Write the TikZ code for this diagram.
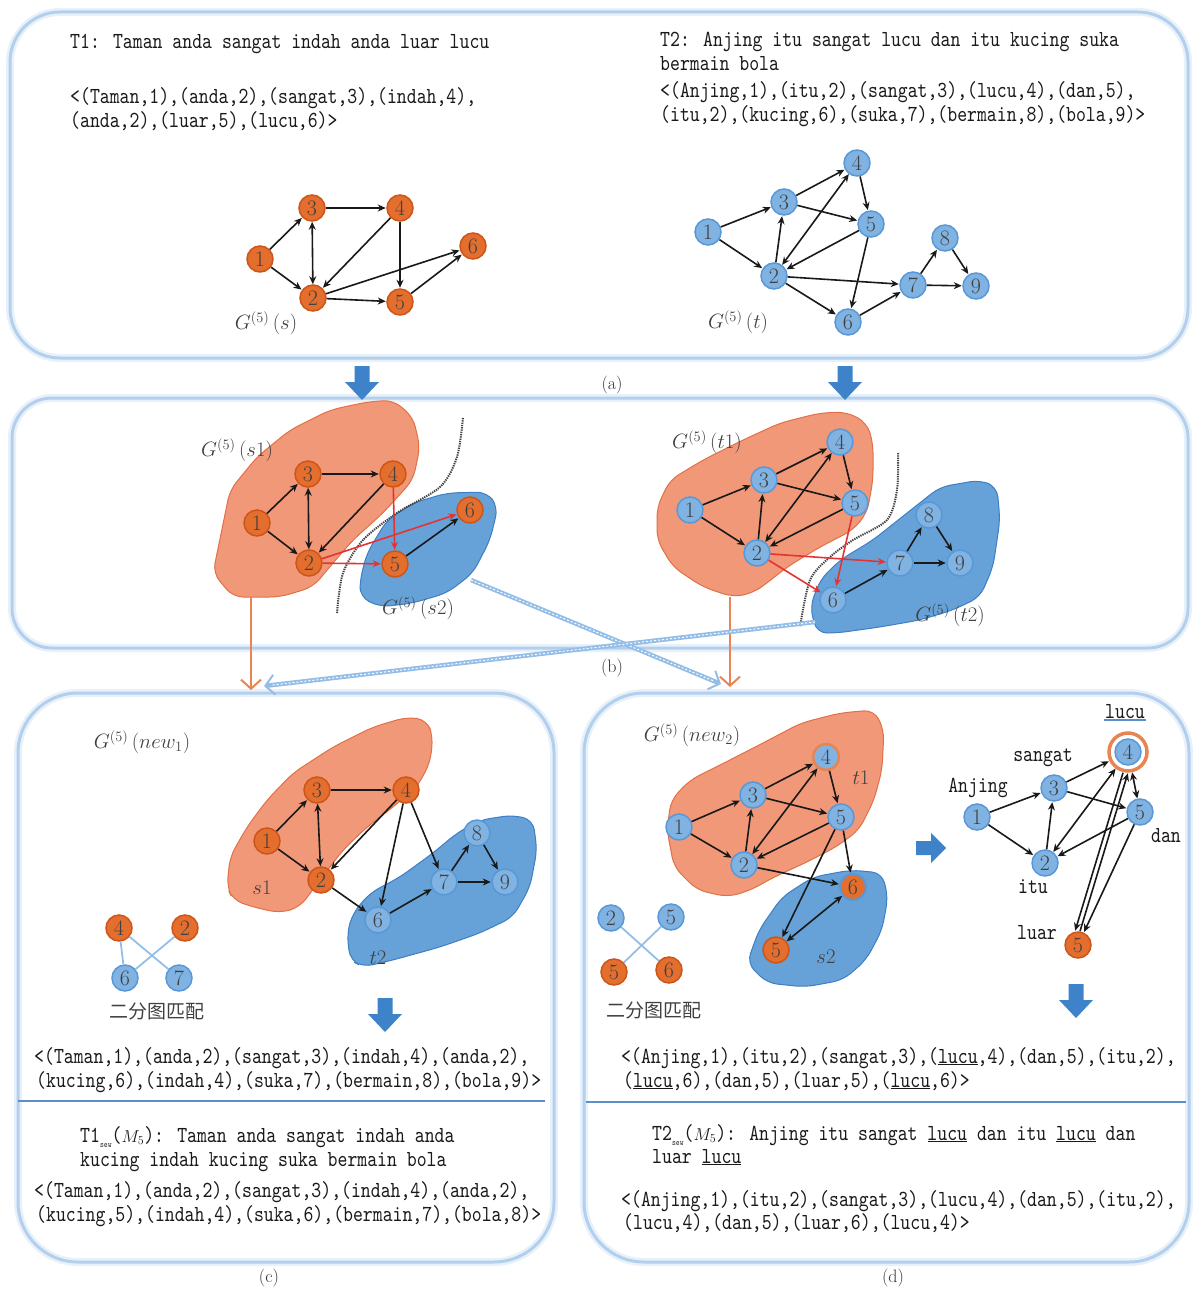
\documentclass[tikz,border=0pt]{standalone}
\usepackage{fontspec}
\usetikzlibrary{arrows.meta}
\newfontfamily\mono[FakeStretch=0.82]{lmmono10-regular.otf}
\newfontfamily\cjk{Noto Sans CJK SC}
\definecolor{onfill}{RGB}{228,110,45}
\definecolor{onborder}{RGB}{205,85,25}
\definecolor{bnfill}{RGB}{128,178,226}
\definecolor{bnborder}{RGB}{88,152,215}
\definecolor{blobofill}{RGB}{241,152,120}
\definecolor{bloboborder}{RGB}{226,112,70}
\definecolor{blobbfill}{RGB}{102,162,216}
\definecolor{blobbborder}{RGB}{62,126,196}
\definecolor{panelblue}{RGB}{178,208,238}
\definecolor{arrowblue}{RGB}{62,130,202}
\definecolor{redge}{RGB}{226,52,52}
\definecolor{stripeblue}{RGB}{148,190,232}
\definecolor{orangecon}{RGB}{234,132,82}
\definecolor{ringorange}{RGB}{232,132,80}
\definecolor{sepblue}{RGB}{92,142,202}
\begin{document}
\begin{tikzpicture}[x=1pt,y=-1pt,
  nd/.style={circle,minimum size=26pt,inner sep=0pt,line width=1.5pt,font=\fontsize{22}{22}\selectfont,text=black!75},
  on/.style={nd,fill=onfill,draw=onborder},
  bn/.style={nd,fill=bnfill,draw=bnborder},
  ed/.style={draw=black!90,line width=1.6pt,-{Stealth[length=8pt,width=7pt]},shorten >=0.5pt},
  ded/.style={draw=black!90,line width=1.6pt,{Stealth[length=8pt,width=7pt]}-{Stealth[length=8pt,width=7pt]}},
  rded/.style={ed,draw=redge,-{Stealth[length=8pt,width=7pt]}},
  txt/.style={font=\mono\fontsize{23}{28}\selectfont,anchor=base west,inner sep=0pt,text=black!90},
  lbl/.style={font=\mono\fontsize{23}{28}\selectfont,inner sep=1pt,text=black!90},
  glab/.style={font=\fontsize{20}{20}\selectfont,inner sep=0pt,text=black!75},
  panellab/.style={font=\fontsize{18}{18}\selectfont,inner sep=0pt,text=black!80},
  panel/.style={draw=panelblue,line width=3pt,rounded corners=50pt},
  panelshadow/.style={draw=panelblue,line width=8pt,rounded corners=50pt,opacity=0.3},
  blobo/.style={fill=blobofill,draw=bloboborder,line width=1pt,rounded corners=10pt},
  blobb/.style={fill=blobbfill,draw=blobbborder,line width=1pt,rounded corners=10pt},
  dotcurve/.style={draw=black!75,line width=2pt,dash pattern=on 1.3pt off 1pt},
  ocon/.style={draw=orangecon,line width=2pt,-{Straight Barb[length=9pt,width=20pt,line width=2pt]}},
  bcon/.style={draw=stripeblue,line width=4.5pt,-{Straight Barb[length=9pt,width=20pt,line width=2pt]}},
  bstripe/.style={draw=white,line width=1pt,dash pattern=on 2pt off 2pt,shorten >=8pt},
  bip/.style={draw=stripeblue,line width=1.8pt},
  sepl/.style={draw=sepblue,line width=2pt},
  darrow/.pic={\fill[arrowblue] (-7.5,-16) -- (7.5,-16) -- (7.5,0) -- (17,0) -- (0,18) -- (-17,0) -- (-7.5,0) -- cycle;},
  rarrow/.pic={\fill[arrowblue] (-15,-7) -- (0,-7) -- (0,-15) -- (15,0) -- (0,15) -- (0,7) -- (-15,7) -- cycle;}
]
\useasboundingbox (0,0) rectangle (1192,1292);

% ---------- panels ----------
\draw[panelshadow] (10,12) rectangle (1188,358);
\draw[panel] (10,12) rectangle (1188,358);
\draw[panelshadow,rounded corners=40pt] (12,398) rectangle (1188,648);
\draw[panel,rounded corners=40pt] (12,398) rectangle (1188,648);
\draw[panelshadow,rounded corners=60pt] (18,693) rectangle (554,1262);
\draw[panel,rounded corners=60pt] (18,693) rectangle (554,1262);
\draw[panelshadow,rounded corners=60pt] (584,693) rectangle (1189,1262);
\draw[panel,rounded corners=60pt] (584,693) rectangle (1189,1262);

\node[panellab] (la) at (612,385) {(a)};
\node[panellab] (lb) at (612,668) {(b)};
\node[panellab] (lc) at (269,1278) {(c)};
\node[panellab] (ld) at (893,1278) {(d)};

% ---------- panel (a) texts ----------
\node[txt] (t1text) at (70,49) {T1: Taman anda sangat indah anda luar lucu};
\node[txt] (t1tupA) at (70,104) {<(Taman,1),(anda,2),(sangat,3),(indah,4),};
\node[txt] (t1tupB) at (70,128) {(anda,2),(luar,5),(lucu,6)>};
\node[txt] (t2text) at (660,47) {T2: Anjing itu sangat lucu dan itu kucing suka};
\node[txt] (t2textB) at (660,71) {bermain bola};
\node[txt] (t2tupA) at (660,98) {<(Anjing,1),(itu,2),(sangat,3),(lucu,4),(dan,5),};
\node[txt] (t2tupB) at (660,122) {(itu,2),(kucing,6),(suka,7),(bermain,8),(bola,9)>};

% ---------- G(s) ----------
\node[on] (s1) at (260,259) {1};
\node[on] (s3) at (312,208) {3};
\node[on] (s4) at (400,208) {4};
\node[on] (s6) at (473,246) {6};
\node[on] (s2) at (313,298) {2};
\node[on] (s5) at (400,302) {5};
\node[glab] (gs) at (266,323) {$G^{(5)}\,(s)$};
\draw[ed] (s1) -- (s3);
\draw[ed] (s1) -- (s2);
\draw[ed] (s3) -- (s4);
\draw[ded] (s3) -- (s2);
\draw[ed] (s4) -- (s2);
\draw[ed] (s4) -- (s5);
\draw[ed] (s2) -- (s5);
\draw[ed] (s2) -- (s6);
\draw[ed] (s5) -- (s6);

% ---------- G(t) ----------
\node[bn] (t4) at (857,163) {4};
\node[bn] (t3) at (784,202) {3};
\node[bn] (t1) at (708,232) {1};
\node[bn] (t5) at (871,224) {5};
\node[bn] (t8) at (945,238) {8};
\node[bn] (t2) at (774,276) {2};
\node[bn] (t7) at (913,285) {7};
\node[bn] (t9) at (976,286) {9};
\node[bn] (t6) at (848,322) {6};
\node[glab] (gt) at (738,322) {$G^{(5)}\,(t)$};
\draw[ed] (t1) -- (t3);
\draw[ed] (t1) -- (t2);
\draw[ed] (t3) -- (t4);
\draw[ed] (t3) -- (t5);
\draw[ed] (t2) -- (t3);
\draw[ded] (t2) -- (t4);
\draw[ed] (t4) -- (t5);
\draw[ed] (t5) -- (t2);
\draw[ed] (t2) -- (t7);
\draw[ed] (t2) -- (t6);
\draw[ed] (t5) -- (t6);
\draw[ed] (t6) -- (t7);
\draw[ed] (t7) -- (t8);
\draw[ed] (t8) -- (t9);
\draw[ed] (t7) -- (t9);

% ---------- arrows a -> b ----------
\pic at (362,382) {darrow};
\pic at (845,382) {darrow};

% ---------- panel (b) left ----------
\draw[blobo] (213,573) -- (230,490) -- (257,457) -- (290,430) -- (330,410) -- (367,402) -- (393,400) -- (413,417) -- (420,447) -- (413,480) -- (383,513) -- (353,540) -- (333,563) -- (313,587) -- (280,597) -- (233,597) -- cycle;
\draw[blobb] (360,580) -- (367,553) -- (387,520) -- (413,503) -- (447,493) -- (487,492) -- (498,507) -- (490,540) -- (473,573) -- (447,593) -- (413,603) -- (380,607) -- (360,597) -- cycle;
\draw[dotcurve] plot[smooth] coordinates {(463,418) (457,457) (440,487) (397,513) (363,540) (343,573) (337,613)};
\node[on] (u3) at (308,474) {3};
\node[on] (u4) at (393,474) {4};
\node[on] (u1) at (257,523) {1};
\node[on] (u2) at (309,563) {2};
\node[on] (u5) at (395,564) {5};
\node[on] (u6) at (470,510) {6};
\node[glab] (gs1) at (237,450) {$G^{(5)}\,(s1)$};
\node[glab] (gs2) at (418,608) {$G^{(5)}\,(s2)$};
\draw[ed] (u1) -- (u3);
\draw[ed] (u1) -- (u2);
\draw[ed] (u3) -- (u4);
\draw[ded] (u3) -- (u2);
\draw[ed] (u4) -- (u2);
\draw[rded] (u4) -- (u5);
\draw[rded] (u2) -- (u6);
\draw[rded] (u2) -- (u5);
\draw[ed] (u5) -- (u6);

% ---------- panel (b) right ----------
\draw[blobo] (657,507) -- (670,480) -- (703,460) -- (743,440) -- (780,423) -- (820,413) -- (847,412) -- (867,423) -- (873,443) -- (873,480) -- (867,513) -- (853,530) -- (820,547) -- (787,567) -- (767,583) -- (753,593) -- (733,597) -- (703,587) -- (673,567) -- (657,540) -- cycle;
\draw[blobb] (810,607) -- (820,580) -- (840,560) -- (873,540) -- (907,513) -- (940,487) -- (980,480) -- (997,487) -- (1000,520) -- (993,567) -- (980,597) -- (953,610) -- (920,620) -- (880,627) -- (837,633) -- (817,633) -- cycle;
\draw[dotcurve] plot[smooth] coordinates {(898,453) (897,490) (887,520) (853,540) (830,557) (810,580) (800,627)};
\node[bn] (v4) at (840,442) {4};
\node[bn] (v3) at (764,480) {3};
\node[bn] (v1) at (690,510) {1};
\node[bn] (v5) at (855,503) {5};
\node[bn] (v2) at (757,553) {2};
\node[bn] (v8) at (929,515) {8};
\node[bn] (v7) at (900,563) {7};
\node[bn] (v9) at (960,563) {9};
\node[bn] (v6) at (833,600) {6};
\node[glab] (gt1) at (707,442) {$G^{(5)}\,(t1)$};
\node[glab] (gt2) at (950,615) {$G^{(5)}\,(t2)$};
\draw[ed] (v1) -- (v3);
\draw[ed] (v1) -- (v2);
\draw[ed] (v3) -- (v4);
\draw[ed] (v3) -- (v5);
\draw[ed] (v2) -- (v3);
\draw[ded] (v2) -- (v4);
\draw[ed] (v4) -- (v5);
\draw[ed] (v5) -- (v2);
\draw[rded] (v2) -- (v7);
\draw[rded] (v2) -- (v6);
\draw[rded] (v5) -- (v6);
\draw[ed] (v6) -- (v7);
\draw[ed] (v7) -- (v8);
\draw[ed] (v8) -- (v9);
\draw[ed] (v7) -- (v9);

% ---------- connectors b -> c,d ----------
\coordinate (s1bot) at (251,597);
\coordinate (cin1) at (251,690);
\coordinate (t1bot) at (730,597);
\coordinate (din1) at (730,687);
\coordinate (s2edge) at (471,580);
\coordinate (din2) at (721,684);
\coordinate (t2edge) at (815,622);
\coordinate (cin2) at (264,686);
\draw[ocon] (s1bot) -- (cin1);
\draw[ocon] (t1bot) -- (din1);
\draw[bcon] (s2edge) -- (din2);
\draw[bstripe] (s2edge) -- (din2);
\draw[bcon] (t2edge) -- (cin2);
\draw[bstripe] (t2edge) -- (cin2);

% ---------- panel (c) ----------
\draw[blobo] (227,887) -- (230,857) -- (247,827) -- (267,800) -- (293,773) -- (333,747) -- (373,727) -- (407,717) -- (427,720) -- (433,737) -- (430,763) -- (417,787) -- (393,807) -- (367,827) -- (343,850) -- (320,880) -- (300,907) -- (280,913) -- (253,907) -- (233,900) -- cycle;
\draw[blobb] (347,933) -- (353,913) -- (370,893) -- (400,877) -- (433,853) -- (457,833) -- (480,820) -- (513,815) -- (533,820) -- (537,850) -- (530,887) -- (513,917) -- (480,933) -- (440,947) -- (393,960) -- (363,967) -- (350,960) -- cycle;
\node[glab] (gn1) at (142,742) {$G^{(5)}\,(new_{1})$};
\node[glab] (ls1) at (262,888) {$s1$};
\node[glab] (lt2) at (378,958) {$t2$};
\node[on] (w3) at (317,790) {3};
\node[on] (w4) at (406,790) {4};
\node[on] (w1) at (267,841) {1};
\node[on] (w2) at (321,880) {2};
\node[bn] (w6) at (378,920) {6};
\node[bn] (w7) at (444,882) {7};
\node[bn] (w8) at (477,833) {8};
\node[bn] (w9) at (505,882) {9};
\draw[ed] (w1) -- (w3);
\draw[ed] (w1) -- (w2);
\draw[ed] (w3) -- (w4);
\draw[ded] (w3) -- (w2);
\draw[ed] (w4) -- (w2);
\draw[ed] (w4) -- (w6);
\draw[ed] (w4) -- (w7);
\draw[ed] (w2) -- (w6);
\draw[ed] (w6) -- (w7);
\draw[ed] (w7) -- (w8);
\draw[ed] (w8) -- (w9);
\draw[ed] (w7) -- (w9);

\node[on] (p4) at (119,928) {4};
\node[on] (p2) at (185,928) {2};
\node[bn] (p6) at (125,978) {6};
\node[bn] (p7) at (179,978) {7};
\draw[bip] (p4) -- (p6);
\draw[bip] (p4) -- (p7);
\draw[bip] (p2) -- (p6);
\node[font=\cjk\fontsize{19}{19}\selectfont,text=black!75,inner sep=0pt] (bipc) at (157,1011) {二分图匹配};
\pic at (385,1014) {darrow};

\node[txt] (c1) at (34,1063) {<(Taman,1),(anda,2),(sangat,3),(indah,4),(anda,2),};
\node[txt] (c2) at (36,1087) {(kucing,6),(indah,4),(suka,7),(bermain,8),(bola,9)>};
\draw[sepl] (18,1101) -- (545,1101);
\node[txt] (c3) at (80,1142) {T1{\fontsize{9}{9}\selectfont\raisebox{-5pt}{sew}}({\fontsize{18}{18}\selectfont$M_{5}$}): Taman anda sangat indah anda};
\node[txt] (c4) at (80,1166) {kucing indah kucing suka bermain bola};
\node[txt] (c5) at (34,1197) {<(Taman,1),(anda,2),(sangat,3),(indah,4),(anda,2),};
\node[txt] (c6) at (36,1221) {(kucing,5),(indah,4),(suka,6),(bermain,7),(bola,8)>};

% ---------- panel (d) left ----------
\draw[blobo] (667,830) -- (671,800) -- (690,780) -- (724,763) -- (763,743) -- (801,723) -- (840,713) -- (874,710) -- (884,730) -- (882,770) -- (874,800) -- (859,830) -- (836,847) -- (805,863) -- (774,877) -- (751,890) -- (728,897) -- (697,890) -- (674,867) -- cycle;
\draw[blobb] (747,963) -- (759,930) -- (782,897) -- (813,877) -- (851,870) -- (882,873) -- (888,897) -- (882,930) -- (866,960) -- (843,980) -- (805,987) -- (767,983) -- cycle;
\node[glab] (gn2) at (692,735) {$G^{(5)}\,(new_{2})$};
\node[glab] (lt1) at (861,778) {$t1$};
\node[glab] (ls2) at (826,957) {$s2$};
\node[bn,draw=ringorange,line width=2.5pt] (x4) at (826,757) {4};
\node[bn] (x3) at (753,795) {3};
\node[bn] (x1) at (679,827) {1};
\node[bn] (x5) at (841,817) {5};
\node[bn] (x2) at (744,865) {2};
\node[on,draw=bnborder,line width=2pt] (x6o) at (853,887) {6};
\node[on] (x5o) at (776,950) {5};
\draw[ed] (x1) -- (x3);
\draw[ed] (x1) -- (x2);
\draw[ed] (x3) -- (x4);
\draw[ed] (x3) -- (x5);
\draw[ed] (x2) -- (x3);
\draw[ded] (x2) -- (x4);
\draw[ed] (x4) -- (x5);
\draw[ed] (x5) -- (x2);
\draw[ed] (x2) -- (x6o);
\draw[ed] (x5) -- (x6o);
\draw[ed] (x5) -- (x5o);
\draw[ded] (x5o) -- (x6o);

\node[bn] (q2) at (611,918) {2};
\node[bn] (q5) at (671,917) {5};
\node[on] (q5o) at (614,972) {5};
\node[on] (q6o) at (669,970) {6};
\draw[bip] (q2) -- (q6o);
\draw[bip] (q5) -- (q5o);
\node[font=\cjk\fontsize{19}{19}\selectfont,text=black!75,inner sep=0pt] (bipd) at (654,1010) {二分图匹配};

\pic at (931,848) {rarrow};

% ---------- panel (d) right ----------
\node[bn] (y4) at (1128,752) {4};
\node[circle,draw=ringorange,line width=3.5pt,minimum size=38pt,inner sep=0pt] (y4r) at (1128,752) {};
\node[bn] (y3) at (1054,788) {3};
\node[bn] (y1) at (977,817) {1};
\node[bn] (y5) at (1140,812) {5};
\node[bn] (y2) at (1045,863) {2};
\node[on] (y5o) at (1078,945) {5};
\node[lbl] (wlucu) at (1125,712) {lucu};
\draw[sepl] (wlucu.south west) -- (wlucu.south east);
\node[lbl] (wsangat) at (1043,758) {sangat};
\node[lbl] (wanjing) at (978,788) {Anjing};
\node[lbl] (wdan) at (1166,836) {dan};
\node[lbl] (witu) at (1033,887) {itu};
\node[lbl] (wluar) at (1037,933) {luar};
\draw[ed] (y1) -- (y3);
\draw[ed] (y1) -- (y2);
\draw[ed] (y3) -- (y4r);
\draw[ed] (y3) -- (y5);
\draw[ed] (y2) -- (y3);
\draw[ded] (y2) -- (y4r);
\draw[ded] (y4r) -- (y5);
\draw[ed] (y5) -- (y2);
\draw[ed] ([xshift=-5pt]y4r.south) -- ([xshift=-3pt]y5o.north);
\draw[ed] ([xshift=2pt]y5o.north) -- ([xshift=0pt]y4r.south);
\draw[ed] (y5) -- (y5o);
\pic at (1076,1000) {darrow};

\node[txt] (d1) at (621,1063) {<(Anjing,1),(itu,2),(sangat,3),(\underline{lucu},4),(dan,5),(itu,2),};
\node[txt] (d2) at (623,1087) {(\underline{lucu},6),(dan,5),(luar,5),(\underline{lucu},6)>};
\draw[sepl] (586,1102) -- (1186,1102);
\node[txt] (d3) at (652,1140) {T2{\fontsize{9}{9}\selectfont\raisebox{-5pt}{sew}}({\fontsize{18}{18}\selectfont$M_{5}$}): Anjing itu sangat \underline{lucu} dan itu \underline{lucu} dan};
\node[txt] (d4) at (652,1163) {luar \underline{lucu}};
\node[txt] (d5) at (621,1206) {<(Anjing,1),(itu,2),(sangat,3),(lucu,4),(dan,5),(itu,2),};
\node[txt] (d6) at (623,1229) {(lucu,4),(dan,5),(luar,6),(lucu,4)>};
\end{tikzpicture}
\end{document}
